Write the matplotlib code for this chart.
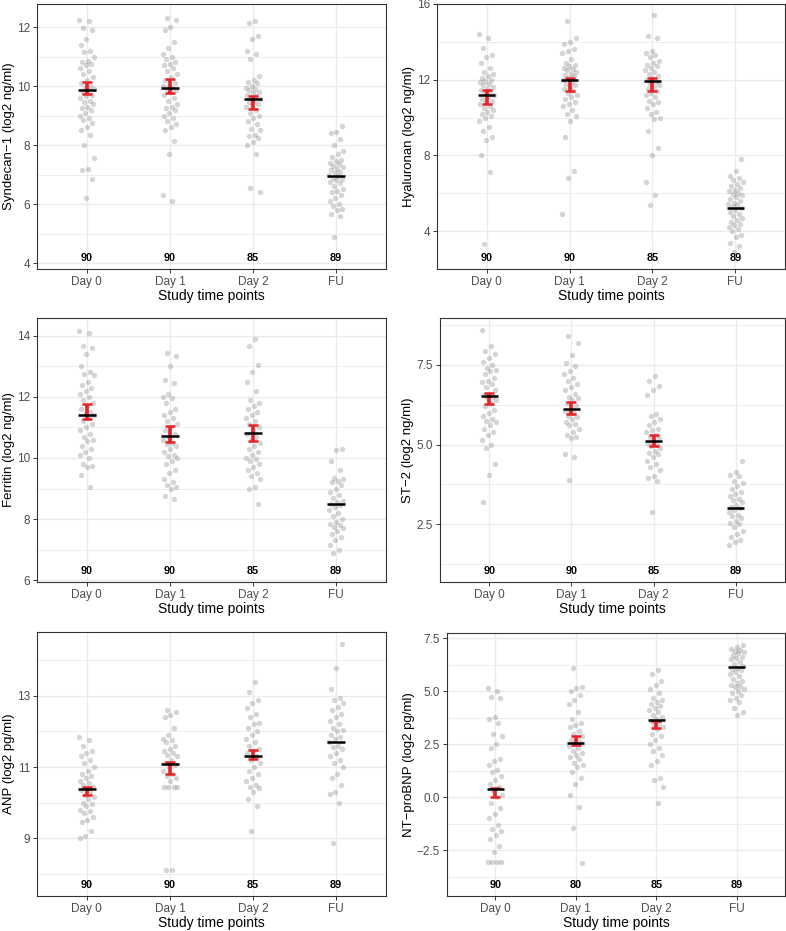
import matplotlib
matplotlib.use("Agg")
import matplotlib.pyplot as plt
import matplotlib.transforms as mtransforms
import numpy as np

plt.rcParams['font.family'] = ['Liberation Sans', 'DejaVu Sans']

groups = ['Day 0', 'Day 1', 'Day 2', 'FU']

# ---- Syndecan-1 ----
syn_d0 = [12.25, 12.2, 11.95, 11.9, 11.6, 11.4, 11.2, 11.15, 11.0, 10.85, 10.8, 10.75, 10.7, 10.6, 10.5,
          10.4, 10.3, 10.2, 10.1, 10.0, 9.95, 9.9, 9.85, 9.8, 9.7, 9.65, 9.6, 9.5, 9.45, 9.4, 9.3, 9.25,
          9.2, 9.1, 9.0, 8.9, 8.85, 8.75, 8.6, 8.5, 8.35, 8.0, 7.55, 7.2, 7.15, 6.85, 6.2]
syn_d1 = [12.3, 12.25, 12.0, 11.9, 11.5, 11.3, 11.1, 11.0, 10.9, 10.8, 10.75, 10.7, 10.6, 10.5, 10.4,
          10.3, 10.2, 10.1, 10.05, 10.0, 9.95, 9.9, 9.85, 9.8, 9.7, 9.6, 9.5, 9.4, 9.3, 9.25, 9.2, 9.1,
          9.0, 8.9, 8.8, 8.7, 8.6, 8.5, 8.15, 7.7, 6.3, 6.1]
syn_d2 = [12.2, 12.15, 11.7, 11.6, 11.2, 11.1, 10.9, 10.35, 10.2, 10.15, 10.1, 10.0, 9.95, 9.9, 9.85,
          9.8, 9.75, 9.7, 9.65, 9.6, 9.55, 9.5, 9.45, 9.4, 9.35, 9.3, 9.2, 9.1, 9.0, 8.9, 8.8, 8.7,
          8.55, 8.5, 8.35, 8.3, 8.25, 8.1, 8.0, 7.7, 6.55, 6.4]
syn_fu = [8.65, 8.45, 8.4, 8.2, 8.0, 7.8, 7.7, 7.6, 7.5, 7.45, 7.4, 7.35, 7.3, 7.25, 7.2, 7.15, 7.1,
          7.05, 7.0, 6.95, 6.9, 6.85, 6.8, 6.75, 6.7, 6.6, 6.5, 6.45, 6.4, 6.3, 6.2, 6.1, 6.0, 5.95,
          5.85, 5.8, 5.65, 5.6, 4.9]
syn_mean = [9.86, 9.93, 9.55, 6.96]
syn_ci_mid = [9.94, 10.0, 9.45]
syn_ci_half = [0.21, 0.23, 0.22]

# ---- Hyaluronan ----
hya_d0 = [14.4, 14.2, 13.7, 13.3, 13.2, 12.9, 12.6, 12.4, 12.3, 12.2, 12.1, 12.0, 11.95, 11.9, 11.8,
          11.7, 11.6, 11.5, 11.45, 11.4, 11.3, 11.2, 11.1, 11.0, 10.9, 10.8, 10.7, 10.6, 10.5, 10.4,
          10.3, 10.2, 10.1, 10.0, 9.8, 9.5, 9.3, 9.0, 8.8, 8.0, 7.1, 3.3]
hya_d1 = [15.1, 14.2, 14.0, 13.9, 13.6, 13.5, 13.4, 13.1, 12.9, 12.8, 12.7, 12.6, 12.55, 12.5, 12.4,
          12.3, 12.25, 12.2, 12.1, 12.0, 11.9, 11.8, 11.7, 11.6, 11.5, 11.4, 11.3, 11.2, 11.1, 11.0,
          10.8, 10.7, 10.6, 10.4, 10.2, 10.1, 9.8, 9.0, 7.2, 6.8, 4.9]
hya_d2 = [15.4, 14.3, 14.2, 13.5, 13.4, 13.3, 13.2, 13.0, 12.9, 12.8, 12.7, 12.6, 12.5, 12.4, 12.3,
          12.2, 12.1, 12.0, 11.9, 11.8, 11.7, 11.6, 11.5, 11.4, 11.3, 11.2, 11.1, 10.9, 10.8, 10.7,
          10.5, 10.3, 10.2, 10.0, 9.9, 9.3, 8.4, 8.0, 6.6, 5.9, 5.4]
hya_fu = [7.8, 7.2, 6.9, 6.8, 6.7, 6.6, 6.5, 6.4, 6.3, 6.2, 6.1, 6.0, 5.95, 5.9, 5.8, 5.7, 5.6, 5.5,
          5.45, 5.4, 5.3, 5.2, 5.1, 5.0, 4.9, 4.8, 4.7, 4.6, 4.5, 4.4, 4.3, 4.2, 4.1, 4.0, 3.8, 3.7,
          3.4, 3.2, 2.9]
hya_mean = [11.2, 12.0, 11.91, 5.21]
hya_ci_mid = [11.1, 11.76, 11.76]
hya_ci_half = [0.37, 0.33, 0.33]

# ---- Ferritin ----
fer_d0 = [14.15, 14.1, 13.65, 13.6, 13.4, 13.0, 12.8, 12.75, 12.7, 12.5, 12.4, 12.3, 12.2, 12.1, 12.0,
          11.9, 11.8, 11.7, 11.6, 11.5, 11.45, 11.4, 11.3, 11.2, 11.1, 11.0, 10.9, 10.8, 10.7, 10.6,
          10.55, 10.4, 10.3, 10.2, 10.1, 10.0, 9.8, 9.75, 9.7, 9.45, 9.05]
fer_d1 = [13.45, 13.35, 13.0, 12.55, 12.45, 12.1, 12.0, 11.95, 11.8, 11.6, 11.5, 11.4, 11.3, 11.2,
          11.1, 11.0, 10.9, 10.8, 10.7, 10.6, 10.5, 10.45, 10.4, 10.3, 10.2, 10.1, 10.05, 10.0, 9.9,
          9.8, 9.6, 9.5, 9.3, 9.2, 9.1, 9.05, 9.0, 8.75, 8.65]
fer_d2 = [13.9, 13.65, 13.05, 12.8, 12.5, 12.2, 11.9, 11.8, 11.7, 11.6, 11.5, 11.4, 11.3, 11.2, 11.1,
          11.0, 10.9, 10.8, 10.7, 10.6, 10.5, 10.4, 10.3, 10.2, 10.1, 10.0, 9.95, 9.9, 9.8, 9.7, 9.6,
          9.5, 9.4, 9.3, 9.05, 9.0, 8.5]
fer_fu = [10.3, 10.25, 9.9, 9.6, 9.35, 9.3, 9.25, 9.2, 9.1, 9.0, 8.9, 8.8, 8.7, 8.6, 8.55, 8.5, 8.45,
          8.4, 8.3, 8.2, 8.1, 8.0, 7.9, 7.85, 7.8, 7.75, 7.7, 7.6, 7.5, 7.4, 7.3, 7.15, 7.0, 6.9]
fer_mean = [11.41, 10.72, 10.83, 8.49]
fer_ci_mid = [11.52, 10.78, 10.83]
fer_ci_half = [0.25, 0.25, 0.26]

# ---- ST-2 ----
st2_d0 = [8.6, 8.1, 7.95, 7.85, 7.7, 7.6, 7.5, 7.4, 7.35, 7.3, 7.2, 7.1, 7.0, 6.95, 6.9, 6.8, 6.7,
          6.6, 6.55, 6.5, 6.45, 6.4, 6.3, 6.2, 6.1, 6.0, 5.9, 5.8, 5.75, 5.7, 5.6, 5.5, 5.4, 5.3, 5.15,
          5.0, 4.9, 4.4, 4.05, 3.2]
st2_d1 = [8.4, 8.2, 7.8, 7.55, 7.45, 7.3, 7.2, 7.1, 7.0, 6.9, 6.8, 6.7, 6.6, 6.5, 6.45, 6.4, 6.3,
          6.2, 6.1, 6.05, 6.0, 5.9, 5.85, 5.8, 5.7, 5.65, 5.6, 5.5, 5.4, 5.3, 5.25, 5.2, 4.7, 4.6, 3.9]
st2_d2 = [7.15, 7.0, 6.85, 6.7, 6.55, 5.95, 5.9, 5.8, 5.7, 5.6, 5.5, 5.45, 5.4, 5.3, 5.25, 5.2, 5.1,
          5.05, 5.0, 4.95, 4.9, 4.8, 4.75, 4.7, 4.6, 4.5, 4.4, 4.3, 4.2, 4.0, 3.95, 3.85, 2.9]
st2_fu = [4.5, 4.15, 4.05, 4.0, 3.85, 3.8, 3.7, 3.6, 3.5, 3.45, 3.4, 3.3, 3.25, 3.2, 3.1, 3.05, 3.0,
          2.95, 2.9, 2.8, 2.75, 2.7, 2.6, 2.55, 2.5, 2.4, 2.3, 2.2, 2.1, 2.0, 1.95, 1.85]
st2_mean = [6.51, 6.11, 5.10, 3.01]
st2_ci_mid = [6.44, 6.15, 5.12]
st2_ci_half = [0.17, 0.18, 0.18]

# ---- ANP ----
anp_d0 = [11.85, 11.75, 11.6, 11.45, 11.4, 11.3, 11.2, 11.1, 11.0, 10.9, 10.8, 10.75, 10.7, 10.6,
          10.55, 10.5, 10.45, 10.4, 10.35, 10.3, 10.2, 10.15, 10.1, 10.0, 9.95, 9.9, 9.8, 9.75, 9.7,
          9.6, 9.5, 9.45, 9.2, 9.05, 9.0, 7.7]
anp_d1 = [12.6, 12.55, 12.45, 12.4, 12.1, 11.9, 11.8, 11.75, 11.7, 11.6, 11.5, 11.45, 11.4, 11.35,
          11.3, 11.2, 11.1, 11.05, 11.0, 10.9, 10.8, 10.75, 10.7, 10.6, 10.45, 10.45, 10.45, 10.45,
          8.1, 8.1]
anp_d2 = [13.4, 13.1, 12.9, 12.8, 12.65, 12.5, 12.4, 12.25, 12.2, 12.1, 12.0, 11.9, 11.8, 11.7, 11.6,
          11.5, 11.45, 11.4, 11.3, 11.2, 11.1, 11.0, 10.9, 10.8, 10.7, 10.6, 10.5, 10.45, 10.4, 10.3,
          10.1, 9.9, 9.2]
anp_fu = [14.45, 13.8, 13.2, 12.95, 12.9, 12.8, 12.7, 12.6, 12.5, 12.4, 12.3, 12.2, 12.1, 12.05, 12.0,
          11.9, 11.85, 11.8, 11.7, 11.6, 11.55, 11.5, 11.4, 11.3, 11.2, 11.1, 11.0, 10.8, 10.7, 10.5,
          10.3, 10.25, 10.0, 8.85]
anp_mean = [10.37, 11.09, 11.32, 11.71]
anp_ci_mid = [10.33, 10.97, 11.36]
anp_ci_half = [0.12, 0.17, 0.13]

# ---- NT-proBNP ----
bnp_d0 = [5.15, 5.0, 4.75, 4.7, 3.8, 3.7, 3.5, 3.0, 2.9, 2.5, 2.3, 1.8, 1.7, 1.5, 1.3, 1.2, 1.0, 0.8,
          0.6, 0.5, 0.3, 0.1, 0.0, -0.3, -0.5, -0.8, -1.0, -1.3, -1.5, -1.6, -1.8, -2.0, -2.3, -2.6,
          -3.05, -3.05, -3.05, -3.05, -4.1]
bnp_d1 = [6.1, 5.2, 5.15, 5.0, 4.8, 4.6, 4.4, 4.0, 3.7, 3.5, 3.4, 3.3, 3.1, 3.0, 2.9, 2.8, 2.7, 2.6,
          2.5, 2.4, 2.3, 2.2, 2.1, 2.0, 1.9, 1.8, 1.6, 1.5, 1.4, 1.2, 0.9, 0.6, 0.1, -0.45, -1.45, -3.1]
bnp_d2 = [6.0, 5.8, 5.5, 5.3, 5.1, 4.9, 4.7, 4.6, 4.5, 4.4, 4.3, 4.2, 4.1, 4.0, 3.9, 3.8, 3.7, 3.6,
          3.5, 3.4, 3.3, 3.2, 3.0, 2.9, 2.7, 2.5, 2.3, 2.2, 2.0, 1.7, 1.5, 0.9, 0.8, 0.5, -0.3]
bnp_fu = [7.2, 7.1, 7.0, 6.95, 6.9, 6.85, 6.8, 6.7, 6.6, 6.55, 6.5, 6.4, 6.3, 6.2, 6.1, 6.05, 6.0,
          5.9, 5.8, 5.7, 5.6, 5.5, 5.4, 5.3, 5.25, 5.2, 5.1, 5.0, 4.9, 4.8, 4.7, 4.6, 4.5, 4.2, 4.0, 3.9]
bnp_mean = [0.38, 2.55, 3.63, 6.13]
bnp_ci_mid = [0.2, 2.67, 3.43]
bnp_ci_half = [0.21, 0.21, 0.18]

counts = [['90', '90', '85', '89']] * 5 + [['90', '80', '85', '89']]

panels = [
    ('Syndecan\u22121 (log2 ng/ml)', [syn_d0, syn_d1, syn_d2, syn_fu], syn_mean, syn_ci_mid, syn_ci_half,
     (3.8, 12.78), [4, 6, 8, 10, 12], ['4', '6', '8', '10', '12']),
    ('Hyaluronan (log2 ng/ml)', [hya_d0, hya_d1, hya_d2, hya_fu], hya_mean, hya_ci_mid, hya_ci_half,
     (2.0, 16.0), [4, 8, 12, 16], ['4', '8', '12', '16']),
    ('Ferritin (log2 ng/ml)', [fer_d0, fer_d1, fer_d2, fer_fu], fer_mean, fer_ci_mid, fer_ci_half,
     (5.94, 14.58), [6, 8, 10, 12, 14], ['6', '8', '10', '12', '14']),
    ('ST\u22122 (log2 ng/ml)', [st2_d0, st2_d1, st2_d2, st2_fu], st2_mean, st2_ci_mid, st2_ci_half,
     (0.69, 8.97), [2.5, 5.0, 7.5], ['2.5', '5.0', '7.5']),
    ('ANP (log2 pg/ml)', [anp_d0, anp_d1, anp_d2, anp_fu], anp_mean, anp_ci_mid, anp_ci_half,
     (7.37, 14.8), [9, 11, 13], ['9', '11', '13']),
    ('NT\u2212proBNP (log2 pg/ml)', [bnp_d0, bnp_d1, bnp_d2, bnp_fu], bnp_mean, bnp_ci_mid, bnp_ci_half,
     (-4.67, 7.75), [-2.5, 0.0, 2.5, 5.0, 7.5], ['\u22122.5', '0.0', '2.5', '5.0', '7.5']),
]

# axes boxes in pixels: left, top, right, bottom
boxes = [(37, 4, 386, 269), (437, 4, 785, 269),
         (37, 318, 386, 582), (440, 318, 785, 582),
         (37, 632, 386, 896), (447, 633, 785, 896)]

W, H = 786, 931
fig = plt.figure(figsize=(W / 100, H / 100), dpi=100)

grid_col = '#EBEBEB'
txt_col = '#4D4D4D'
red = '#E4262B'

for k, (ylabel, data, means, ci_mid, ci_half, ylim, yt, ytl) in enumerate(panels):
    l, t, r, b = boxes[k]
    ax = fig.add_axes([l / W, (H - b) / H, (r - l) / W, (b - t) / H])
    ax.set_yticks(yt)
    ax.set_yticklabels(ytl)
    step = yt[1] - yt[0]
    minor = [v - step / 2 for v in yt] + [yt[-1] + step / 2]
    ax.set_yticks(minor, minor=True)
    ax.set_xticks(range(4))
    ax.set_xticklabels(groups)
    ax.set_xlim(-0.6, 3.6)
    ax.set_ylim(*ylim)
    ax.grid(True, which='major', color=grid_col, lw=1.0, zorder=0)
    ax.grid(True, which='minor', axis='y', color=grid_col, lw=0.6, zorder=0)
    ax.set_axisbelow(True)
    ax.tick_params(which='minor', length=0)
    ax.tick_params(which='major', length=3, width=0.7, color='#333333', labelsize=8.5,
                   labelcolor=txt_col, pad=2)
    for sp in ax.spines.values():
        sp.set_color('#333333')
        sp.set_linewidth(0.8)

    for g, vals in enumerate(data):
        vals = np.array(vals)
        idx = np.arange(len(vals))
        off = ((idx * 0.6180339887 + 0.3 * g) % 1.0 - 0.5) * 2 * 0.09
        ax.scatter(g + off, vals, s=15, color='#5A5A5A', alpha=0.25, linewidths=0, zorder=2)

    for g in range(3):
        ax.errorbar(g, ci_mid[g], yerr=ci_half[g], fmt='none', ecolor=red, elinewidth=2.6,
                    capsize=3.8, capthick=1.8, zorder=3)
    for g, m in enumerate(means):
        ax.plot([g - 0.105, g + 0.105], [m, m], color='black', lw=1.8, solid_capstyle='butt', zorder=4)

    trans = mtransforms.blended_transform_factory(ax.transData, ax.transAxes)
    for g, n in enumerate(counts[k]):
        ax.text(g, 0.043, n, transform=trans, ha='center', va='center', fontsize=7.8,
                fontweight='bold', color='black')

    ax.set_xlabel('Study time points', fontsize=10, labelpad=1)
    ax.set_ylabel(ylabel, fontsize=9.5, labelpad=1.5)

fig.savefig('out.png', dpi=100)
